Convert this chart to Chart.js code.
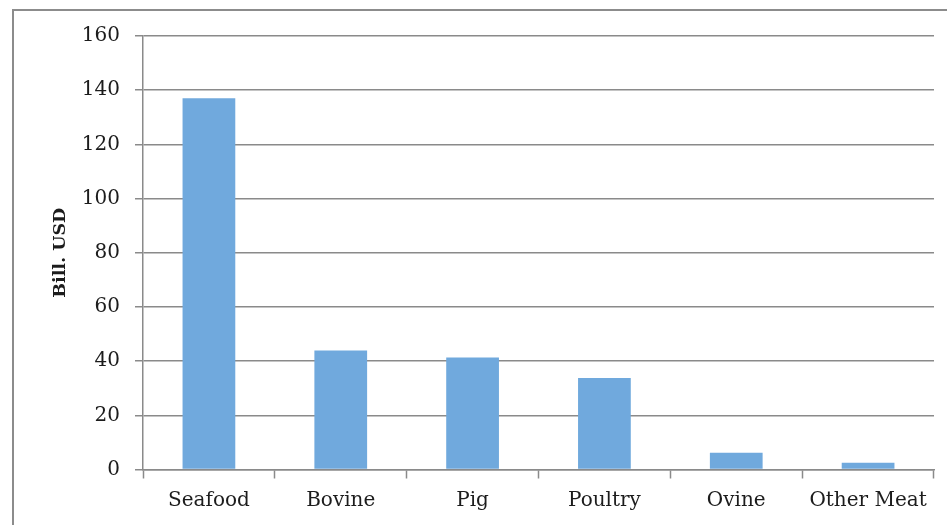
<!DOCTYPE html>
<html>
<head>
<meta charset="utf-8">
<script src="https://cdn.jsdelivr.net/npm/chart.js@4/dist/chart.umd.min.js"></script>
<style>
  html, body { margin: 0; padding: 0; background: #ffffff; }
  #wrap { width: 947px; height: 525px; position: relative; }
</style>
</head>
<body>
<div id="wrap"><canvas id="chart" width="947" height="525"></canvas></div>
<script>
// Export value by product group, billion USD
const categories = ['Seafood', 'Bovine', 'Pig', 'Poultry', 'Ovine', 'Other Meat'];
const exportValues = [137, 43.9, 41.3, 33.8, 6.2, 2.5];
const axisTitle = 'Bill. USD';

const serif = '"DejaVu Serif", "Liberation Serif", serif';
const inkColor = '#1c1c1c';
const lineColor = '#8a8a8a';

// Thin grey frame around the figure
const framePlugin = {
  id: 'frame',
  beforeDraw(chart) {
    const ctx = chart.ctx;
    ctx.save();
    ctx.fillStyle = '#ffffff';
    ctx.fillRect(0, 0, chart.width, chart.height);
    ctx.strokeStyle = '#8c8c8c';
    ctx.lineWidth = 2;
    ctx.beginPath();
    ctx.moveTo(13, chart.height);
    ctx.lineTo(13, 10);
    ctx.lineTo(chart.width, 10);
    ctx.stroke();
    ctx.restore();
  }
};

new Chart(document.getElementById('chart'), {
  type: 'bar',
  data: {
    labels: categories,
    datasets: [{
      data: exportValues,
      backgroundColor: '#70a9dd',
      borderWidth: 0,
      barPercentage: 0.40,
      categoryPercentage: 1.0
    }]
  },
  options: {
    responsive: false,
    animation: false,
    layout: { padding: { top: 36, right: 13, bottom: 0, left: 0 } },
    plugins: {
      legend: { display: false },
      tooltip: { enabled: false },
      title: { display: false }
    },
    scales: {
      x: {
        afterFit(scale) { scale.height = 55.5; },
        grid: {
          display: true,
          drawOnChartArea: false,
          drawTicks: true,
          tickLength: 9,
          tickColor: lineColor,
          tickWidth: 1.5,
          offset: true
        },
        border: { display: true, color: lineColor, width: 1.5 },
        ticks: {
          color: inkColor,
          padding: 10,
          font: { family: serif, size: 20 },
          maxRotation: 0,
          autoSkip: false
        }
      },
      y: {
        min: 0,
        max: 160,
        afterFit(scale) { scale.width = 143; },
        grid: {
          color: lineColor,
          lineWidth: 1.5,
          drawTicks: true,
          tickLength: 8,
          tickColor: lineColor
        },
        border: { display: true, color: lineColor, width: 1.5 },
        ticks: {
          stepSize: 20,
          color: inkColor,
          padding: 15,
          font: { family: serif, size: 20 }
        },
        title: {
          display: true,
          text: axisTitle,
          color: inkColor,
          padding: { top: 50, bottom: 0 },
          font: { family: serif, size: 17.5, weight: 'bold' }
        }
      }
    }
  },
  plugins: [framePlugin]
});
</script>
</body>
</html>
